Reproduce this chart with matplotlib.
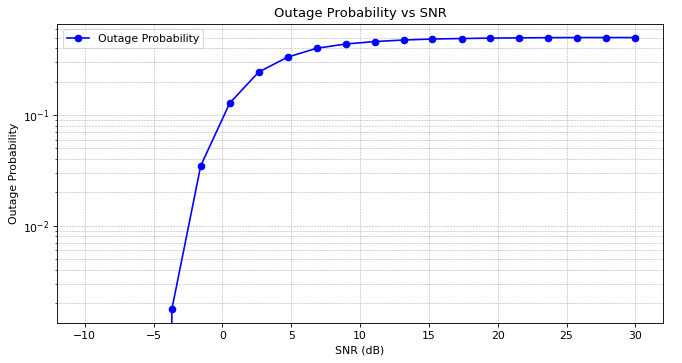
import numpy as np
import matplotlib
matplotlib.use('Agg')
import matplotlib.pyplot as plt

## SNR points (dB) and outage probability
snr_db = [-10.0, -7.89, -5.79, -3.68, -1.58, 0.53, 2.63, 4.74, 6.84, 8.95,
          11.05, 13.16, 15.26, 17.37, 19.47, 21.58, 23.68, 25.79, 27.89, 30.0]
outage = [0.0, 0.0, 0.0, 0.00175, 0.0347, 0.128, 0.244, 0.333, 0.40, 0.437,
          0.46, 0.475, 0.485, 0.49, 0.494, 0.497, 0.499, 0.5, 0.5, 0.5]

DPI = 78.4
fig = plt.figure(figsize=(682 / DPI, 363 / DPI), dpi=DPI)
ax = fig.add_subplot(111)
plt.subplots_adjust(left=0.084, right=0.972, top=0.934, bottom=0.11)

ax.semilogy(snr_db, outage, marker='o', color='b', label='Outage Probability')
ax.set_title('Outage Probability vs SNR')
ax.set_xlabel('SNR (dB)')
ax.set_ylabel('Outage Probability')
ax.grid(True, which='both', linestyle='--', linewidth=0.5)
ax.legend(loc='upper left')

fig.savefig('out.png', dpi=DPI)
